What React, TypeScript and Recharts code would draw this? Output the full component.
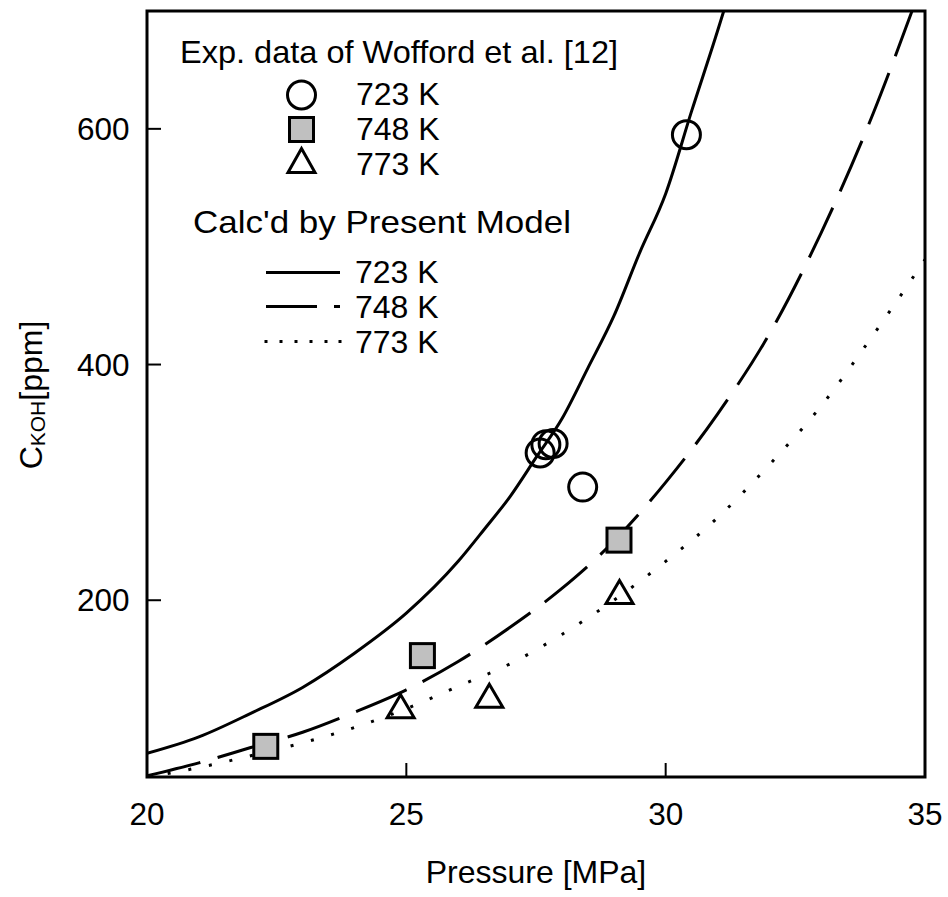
import React from 'react';
import {
  ComposedChart,
  Line,
  Scatter,
  XAxis,
  YAxis,
  ReferenceArea,
  Legend,
} from 'recharts';

// ---- Model curves (Calc'd by Present Model) ----
const pressure723 = [20, 21, 22, 23, 24, 25, 26, 26.5, 27, 27.5, 28, 28.5, 29, 29.5, 30, 30.5, 31, 31.12];
const model723 = [70, 84, 104, 126, 155, 189, 233, 260, 288, 321, 354, 397, 441, 495, 545, 615, 683, 700];

const pressure748 = [20, 21, 22, 23, 24, 25, 26, 27, 28, 29, 30, 31, 32, 33, 34, 34.75];
const model748 = [51, 62, 75, 88, 105, 124, 148, 177, 210, 250, 300, 358, 426, 512, 613, 700];

const pressure773 = [20, 21, 22, 23, 24, 25, 26, 27, 28, 29, 30, 31, 32, 33, 34, 35];
const model773 = [50, 58, 68, 79, 92, 108, 127, 146, 171, 200, 233, 270, 315, 365, 425, 489];

// ---- Experimental data of Wofford et al. ----
const exp723P = [30.4, 27.58, 27.69, 27.83, 28.4];
const exp723C = [595, 325, 332, 333, 296];
const exp748P = [22.29, 25.31, 29.1];
const exp748C = [76, 153, 251];
const exp773P = [24.89, 26.6, 29.11];
const exp773C = [110, 119, 207];

// ---- Axis ticks ----
const xTicks = [20, 25, 30, 35];
const yTicks = [200, 400, 600];

const zip = (xs: number[], ys: number[]) => xs.map((p, i) => ({ p, c: ys[i] }));

const line723 = zip(pressure723, model723);
const line748 = zip(pressure748, model748);
const line773 = zip(pressure773, model773);
const pts723 = zip(exp723P, exp723C);
const pts748 = zip(exp748P, exp748C);
const pts773 = zip(exp773P, exp773C);

const FONT = "'Liberation Sans', Arial, Helvetica, sans-serif";
const GRAY = '#c0c0c0';

const CircleShape = (props: any) => (
  <circle cx={props.cx} cy={props.cy} r={14} fill="none" stroke="#000" strokeWidth={3} />
);
const SquareShape = (props: any) => (
  <rect x={props.cx - 12} y={props.cy - 12} width={24} height={24} fill={GRAY} stroke="#000" strokeWidth={3} />
);
const TriangleShape = (props: any) => {
  const { cx, cy } = props;
  return (
    <polygon
      points={`${cx},${cy - 11.5} ${cx + 13.5},${cy + 11.5} ${cx - 13.5},${cy + 11.5}`}
      fill="none"
      stroke="#000"
      strokeWidth={3}
      strokeLinejoin="miter"
    />
  );
};

const XTick = (props: any) => {
  const { x, y, payload } = props;
  return (
    <g>
      <line x1={x} y1={y} x2={x} y2={y - 14} stroke="#000" strokeWidth={2} />
      <text x={x} y={y + 48} textAnchor="middle" fontSize={31.5} fontFamily={FONT} fill="#000">
        {payload.value}
      </text>
    </g>
  );
};

const YTick = (props: any) => {
  const { x, y, payload } = props;
  return (
    <g>
      <line x1={x} y1={y} x2={x + 14} y2={y} stroke="#000" strokeWidth={2} />
      <text x={x - 17.5} y={y + 11} textAnchor="end" fontSize={31.5} fontFamily={FONT} fill="#000">
        {payload.value}
      </text>
    </g>
  );
};

const XLabel = () => (
  <text x={536} y={883} textAnchor="middle" fontSize={32} fontFamily={FONT} fill="#000">
    Pressure [MPa]
  </text>
);

const YLabel = () => (
  <text
    x={42}
    y={395}
    textAnchor="middle"
    fontFamily={FONT}
    fill="#000"
    transform="rotate(-90 42 395)"
  >
    <tspan fontSize={32}>C</tspan>
    <tspan fontSize={21} dy={3}>KOH</tspan>
    <tspan fontSize={32} dy={-3}>[ppm]</tspan>
  </text>
);

const LegendGraphic = () => {
  const t = { fontSize: 32, fontFamily: FONT, fill: '#000' } as const;
  const dotXs = [266, 281, 296, 311, 326, 340];
  return (
    <svg width={948} height={380} style={{ display: 'block', overflow: 'visible' }}>
      <text x={180} y={63} {...t} textLength={438} lengthAdjust="spacingAndGlyphs">
        Exp. data of Wofford et al. [12]
      </text>
      <circle cx={301.5} cy={95} r={14} fill="none" stroke="#000" strokeWidth={3} />
      <text x={356} y={105} {...t}>723 K</text>
      <rect x={289.5} y={117.5} width={24} height={24} fill={GRAY} stroke="#000" strokeWidth={3} />
      <text x={356} y={140} {...t}>748 K</text>
      <polygon points="301.5,148.5 315,172.5 288,172.5" fill="none" stroke="#000" strokeWidth={3} />
      <text x={356} y={175} {...t}>773 K</text>

      <text x={193} y={233} {...t} textLength={378} lengthAdjust="spacingAndGlyphs">
        Calc'd by Present Model
      </text>
      <line x1={266} y1={272.5} x2={340} y2={272.5} stroke="#000" strokeWidth={3} />
      <text x={355} y={283} {...t}>723 K</text>
      <line x1={266} y1={306.5} x2={317} y2={306.5} stroke="#000" strokeWidth={3} />
      <line x1={334} y1={306.5} x2={340} y2={306.5} stroke="#000" strokeWidth={3} />
      <text x={355} y={318} {...t}>748 K</text>
      {dotXs.map((dx) => (
        <rect key={dx} x={dx - 1.5} y={340} width={3} height={3} fill="#000" />
      ))}
      <text x={355} y={353} {...t}>773 K</text>
    </svg>
  );
};

export default function App() {
  return (
    <div style={{ position: 'absolute', left: 0, top: 0, width: 948, height: 897, background: '#fff' }}>
      <ComposedChart width={948} height={897} margin={{ top: 11, right: 23, bottom: 0, left: 0 }}>
        <XAxis
          type="number"
          dataKey="p"
          domain={[20, 35]}
          ticks={xTicks}
          interval={0}
          allowDataOverflow
          axisLine={false}
          tickLine={false}
          tickSize={0}
          tickMargin={0}
          height={120}
          tick={<XTick />}
          label={{ content: () => <XLabel /> }}
        />
        <YAxis
          type="number"
          dataKey="c"
          domain={[50, 700]}
          ticks={yTicks}
          interval={0}
          allowDataOverflow
          axisLine={false}
          tickLine={false}
          tickSize={0}
          tickMargin={0}
          width={147}
          tick={<YTick />}
          label={{ content: () => <YLabel /> }}
        />
        <ReferenceArea x1={20} x2={35} y1={50} y2={700} fill="none" fillOpacity={0} stroke="#000" strokeWidth={3} />
        <Scatter data={pts748} dataKey="c" shape={<SquareShape />} isAnimationActive={false} legendType="none" />
        <Scatter data={pts723} dataKey="c" shape={<CircleShape />} isAnimationActive={false} legendType="none" />
        <Scatter data={pts773} dataKey="c" shape={<TriangleShape />} isAnimationActive={false} legendType="none" />
        <Line
          data={line723}
          dataKey="c"
          type="monotone"
          stroke="#000"
          strokeWidth={3}
          dot={false}
          activeDot={false}
          isAnimationActive={false}
          legendType="none"
        />
        <Line
          data={line748}
          dataKey="c"
          type="monotone"
          stroke="#000"
          strokeWidth={3}
          strokeDasharray="55 18"
          dot={false}
          activeDot={false}
          isAnimationActive={false}
          legendType="none"
        />
        <Line
          data={line773}
          dataKey="c"
          type="monotone"
          stroke="#000"
          strokeWidth={3}
          strokeDasharray="3 18"
          dot={false}
          activeDot={false}
          isAnimationActive={false}
          legendType="none"
        />
        <Legend
          layout="vertical"
          align="center"
          verticalAlign="middle"
          content={() => <LegendGraphic />}
          wrapperStyle={{ left: 0, top: 0, width: 948, height: 380, pointerEvents: 'none' }}
        />
      </ComposedChart>
    </div>
  );
}
